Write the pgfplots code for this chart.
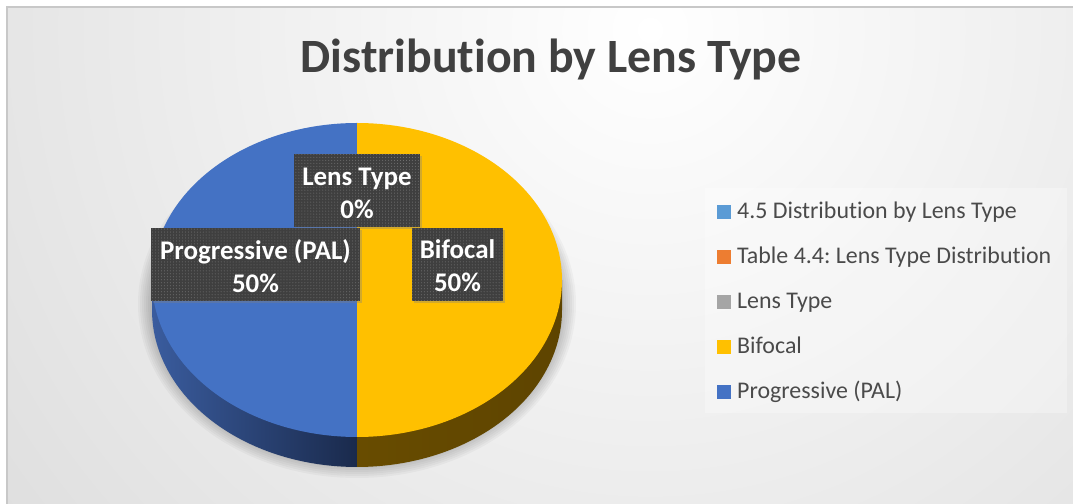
\documentclass[border=0pt]{standalone}
\usepackage{pgfplots}
\pgfplotsset{compat=1.18}
\usepackage{pgfplotstable}
\usepackage{fontspec}
\setmainfont{Carlito}[Ligatures=NoCommon]
\frenchspacing
\usetikzlibrary{patterns,shadows}

\definecolor{cA}{HTML}{5B9BD5}
\definecolor{cB}{HTML}{ED7D31}
\definecolor{cC}{HTML}{A5A5A5}
\definecolor{cD}{HTML}{FFC000}
\definecolor{cE}{HTML}{4472C4}
\definecolor{sideBL}{HTML}{3A5C9E}
\definecolor{sideBR}{HTML}{1A2A4C}
\definecolor{sideYL}{HTML}{684C00}
\definecolor{sideYR}{HTML}{5E4400}
\definecolor{titlec}{HTML}{404040}
\definecolor{legtext}{HTML}{4A4A4A}
\definecolor{boxc}{HTML}{3F3F3F}
\definecolor{bgout}{HTML}{CDCDCD}
\definecolor{framec}{HTML}{C8C8C8}

\pgfplotstableread[col sep=comma, row sep=\\]{
label,value\\
4.5 Distribution by Lens Type,0\\
Table 4.4: Lens Type Distribution,0\\
Lens Type,0\\
Bifocal,50\\
Progressive (PAL),50\\
}\lensdata
\pgfplotstablegetelem{3}{value}\of\lensdata \edef\vB{\pgfplotsretval}
\pgfplotstablegetelem{4}{value}\of\lensdata \edef\vP{\pgfplotsretval}
\pgfmathsetmacro\tot{\vB+\vP}
\pgfmathsetmacro\aB{90-\vB/\tot*360}
\pgfmathsetmacro\aP{\aB-\vP/\tot*360}
\pgfmathsetmacro\sB{max(\aB,-180)}
\pgfmathsetmacro\sP{min(\aB,0)}

\begin{document}
\begin{tikzpicture}
\begin{axis}[
  width=1073bp, height=504bp, scale only axis,
  xmin=0, xmax=1073, ymin=0, ymax=504,
  hide axis, clip=false,
  legend image code/.code={\fill[#1, draw=none] (0bp,-7bp) rectangle (14bp,7bp);},
  legend style={at={(717/1073,303/504)}, anchor=north west,
    fill=none, draw=none, inner sep=0pt,
    font=\fontsize{24}{28}\selectfont, text=legtext,
    nodes={inner sep=0pt, text height=17bp, text depth=5bp},
    row sep=23bp, column sep=6bp},
  legend cell align=left,
]
\coordinate (LL) at (axis cs:0,0);
\coordinate (UR) at (axis cs:1073,504);
% background
\begin{scope}
\clip (axis cs:7,0) rectangle (axis cs:1073,497);
\fill[bgout] (axis cs:7,0) rectangle (axis cs:1073,497);
\shade[inner color=white, outer color=bgout] (axis cs:650,474) circle (1260bp);
\end{scope}
\draw[framec, line width=1.2bp] (axis cs:7,0) -- (axis cs:7,497) -- (axis cs:1073,497);
% legend background
\fill[white, opacity=0.3] (axis cs:705,91) rectangle (axis cs:1067,316);
% soft shadow of the pie
\begin{scope}
\clip (axis cs:137,26) rectangle (axis cs:578,480);
\pgfplotsinvokeforeach{14,12,10,8,6,4,2,0}{
  \fill[black, opacity=0.03] (axis cs:357,200) ellipse ({(205+#1)*1bp} and {(160+#1)*1bp});
}
\end{scope}

% pie sides
\addplot[forget plot, draw=none, left color=sideBL, right color=sideBR,
  domain=-180:\sP, samples=80, variable=\t]
  ({357+205*cos(\t)},{194+157*sin(\t)}) -- (axis cs:357,224) -- (axis cs:152,224) -- cycle;
\addplot[forget plot, draw=none, left color=sideYL, right color=sideYR,
  domain=\sB:0, samples=80, variable=\t]
  ({357+205*cos(\t)},{194+157*sin(\t)}) -- (axis cs:562,224) -- (axis cs:357,224) -- cycle;
% pie tops
\addplot[forget plot, draw=none, fill=cE, domain=\aP:\aB, samples=120, variable=\t]
  ({357+205*cos(\t)},{224+157*sin(\t)}) -- (axis cs:357,224) -- cycle;
\addplot[forget plot, draw=none, fill=cD, domain=\aB:90, samples=120, variable=\t]
  ({357+205*cos(\t)},{224+157*sin(\t)}) -- (axis cs:357,224) -- cycle;

% legend
\addlegendimage{cA}\addlegendentry{4.5 Distribution by Lens Type}
\addlegendimage{cB}\addlegendentry{Table 4.4: Lens Type Distribution}
\addlegendimage{cC}\addlegendentry{Lens Type}
\addlegendimage{cD}\addlegendentry{Bifocal}
\addlegendimage{cE}\addlegendentry{Progressive (PAL)}

% title
\node[anchor=base, text=titlec, font=\fontsize{48}{56}\selectfont\bfseries]
  at (axis cs:551,431) {Distribution by Lens Type};

% data labels
\tikzset{lbl/.style={fill=boxc, inner sep=0pt, minimum height=73bp,
  drop shadow={opacity=0.35, shadow xshift=2bp, shadow yshift=-2bp}}}
\tikzset{lblp/.style={pattern=dots, pattern color=white!30!boxc, inner sep=0pt, minimum height=73bp}}
\tikzset{lblt/.style={text=white, align=center, inner sep=0pt, font=\fontsize{27}{33}\selectfont\bfseries}}
\node[lbl, minimum width=126bp] at (axis cs:357,313.5) {};
\node[lblp, minimum width=126bp] at (axis cs:357,313.5) {};
\node[lblt] at (axis cs:357,311) {Lens Type\\0\%};
\node[lbl, minimum width=209bp] at (axis cs:255.5,239.5) {};
\node[lblp, minimum width=209bp] at (axis cs:255.5,239.5) {};
\node[lblt] at (axis cs:255.5,238) {Progressive (PAL)\\50\%};
\node[lbl, minimum width=91bp] at (axis cs:457.5,239.5) {};
\node[lblp, minimum width=91bp] at (axis cs:457.5,239.5) {};
\node[lblt] at (axis cs:457.5,238) {Bifocal\\50\%};
\end{axis}
\pgfresetboundingbox
\useasboundingbox (LL) rectangle (UR);
\end{tikzpicture}
\end{document}
